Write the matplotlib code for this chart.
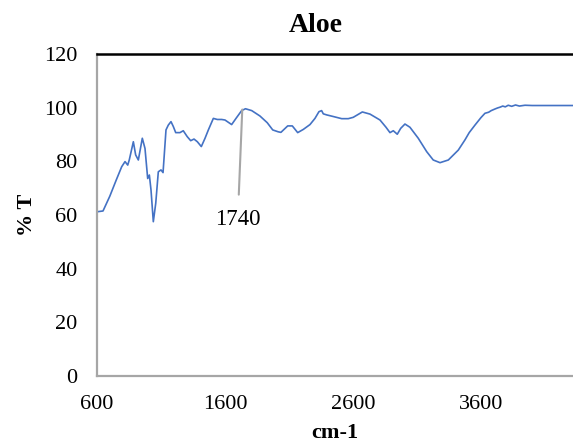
import matplotlib
matplotlib.use("Agg")
import matplotlib.pyplot as plt

# wavenumber (cm-1) and transmittance (%)
wavenumber = [600, 647, 700, 750, 793, 819, 840, 852, 884, 902, 923, 954, 975,
              996, 1009, 1022, 1040, 1059, 1079, 1100, 1116, 1139, 1157, 1178,
              1196, 1215, 1248, 1274, 1305, 1332, 1358, 1384, 1415, 1444, 1470,
              1509, 1540, 1574, 1600, 1652, 1686, 1730, 1760, 1809, 1873, 1930,
              1973, 2016, 2037, 2090, 2126, 2168, 2212, 2264, 2303, 2334, 2355,
              2368, 2395, 2446, 2512, 2563, 2602, 2673, 2733, 2811, 2858, 2889,
              2915, 2946, 2973, 3006, 3045, 3110, 3176, 3227, 3280, 3345, 3423,
              3475, 3508, 3553, 3600, 3631, 3660, 3680, 3709, 3730, 3750, 3770,
              3790, 3813, 3840, 3870, 3900, 3944, 4000, 4100, 4200, 4319]
transmittance = [61.2, 61.5, 67.0, 73.0, 78.0, 79.9, 78.6, 80.5, 87.3, 82.4,
                 80.5, 88.6, 84.8, 73.6, 74.9, 69.3, 57.5, 64.4, 76.1, 76.8,
                 75.8, 91.7, 93.5, 94.8, 93.0, 90.7, 90.7, 91.4, 89.2, 87.7,
                 88.3, 87.3, 85.5, 88.6, 91.7, 96.0, 95.6, 95.6, 95.4, 93.7,
                 96.0, 98.9, 99.6, 98.9, 96.9, 94.4, 91.7, 91.0, 90.8, 93.2,
                 93.2, 90.7, 91.9, 93.7, 96.0, 98.5, 98.9, 97.7, 97.3, 96.7,
                 95.9, 95.9, 96.4, 98.4, 97.6, 95.4, 92.7, 90.7, 91.4, 90.1,
                 92.3, 93.9, 92.7, 88.6, 83.6, 80.5, 79.5, 80.5, 84.2, 88.0,
                 90.7, 93.5, 96.3, 97.9, 98.3, 98.9, 99.5, 99.9, 100.2, 100.6,
                 100.3, 100.9, 100.5, 101.0, 100.6, 100.9, 100.8, 100.8, 100.8,
                 100.8]

x_ticks = [600, 1600, 2600, 3600]
y_ticks = [0, 20, 40, 60, 80, 100, 120]

plt.rcParams["font.family"] = ["Liberation Serif", "DejaVu Serif"]

fig = plt.figure(figsize=(5.73, 4.43), dpi=100)
ax = fig.add_axes([97 / 573, 67 / 443, 476 / 573, 322 / 443])

ax.plot(wavenumber, transmittance, color="#4472C4", linewidth=1.2)

ax.set_xlim(600, 4319)
ax.set_ylim(0, 120)
ax.set_xticks(x_ticks)
ax.set_yticks(y_ticks)
ax.tick_params(axis="both", length=0, labelsize=16)
ax.tick_params(axis="y", pad=14)
ax.tick_params(axis="x", pad=14)

for side in ["left", "bottom"]:
    ax.spines[side].set_color("#A6A6A6")
    ax.spines[side].set_linewidth(1.6)
ax.spines["right"].set_visible(False)
ax.spines["top"].set_color("black")
ax.spines["top"].set_linewidth(1.8)

# peak annotation
ax.annotate("1740", xy=(1735, 99.3), xytext=(1700, 58.5),
            fontsize=16.5, ha="center", va="center",
            arrowprops=dict(arrowstyle="-", color="#A6A6A6", linewidth=1.5,
                            shrinkA=8, shrinkB=0))

fig.text(316 / 573, 1 - 25 / 443, "Aloe", fontsize=20, fontweight="bold",
         ha="center", va="center")
fig.text(335 / 573, 1 - 433 / 443, "cm-1", fontsize=16, fontweight="bold",
         ha="center", va="center")
fig.text(27 / 573, 1 - 215 / 443, "% T", fontsize=16, fontweight="bold",
         ha="center", va="center", rotation=90)

fig.savefig("out.png", dpi=100)
